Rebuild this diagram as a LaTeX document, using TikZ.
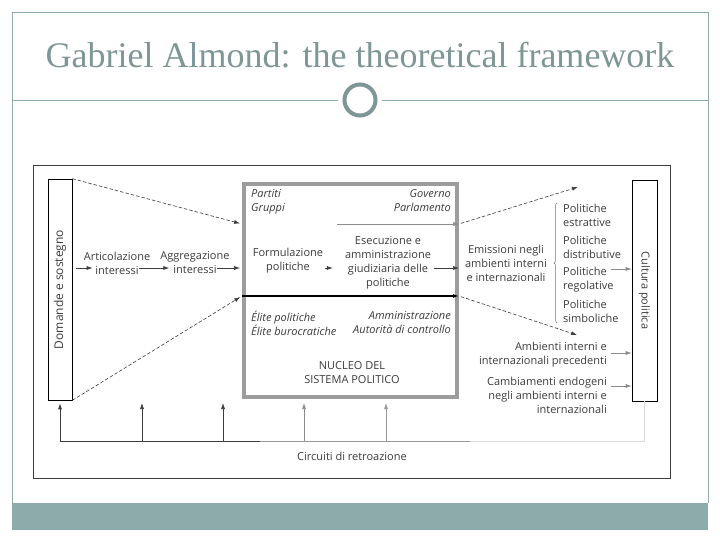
\documentclass[tikz,border=0pt]{standalone}
\usepackage{fontspec}
\setmainfont{Open Sans}
\newfontfamily\titlefont{Liberation Serif}
\usetikzlibrary{positioning,arrows.meta,decorations.pathreplacing}

\definecolor{slideteal}{HTML}{8DABAB}
\definecolor{titlegray}{HTML}{7E9696}
\definecolor{ink}{HTML}{3C3C3C}
\definecolor{corebd}{HTML}{9C9C9C}

\tikzset{
  txt/.style={font=\fontsize{11}{14}\selectfont, text=ink, inner sep=0pt, align=center},
  itxt/.style={txt, font=\fontsize{11}{14}\selectfont\itshape},
  flow/.style={draw=ink, line width=0.6pt, -{Latex[length=6pt,width=4pt]}},
  dflow/.style={flow, dash pattern=on 3.5pt off 2pt},
  gflow/.style={flow, draw=black!45},
  fbline/.style={line width=0.7pt},
  tallbox/.style={draw=black, line width=0.6pt, minimum height=221pt, inner sep=0pt},
}

\begin{document}
\begin{tikzpicture}[x=1pt, y=-1pt]
    \useasboundingbox (0,0) rectangle (720,540);
    \fill[white] (0,0) rectangle (720,540);

    \fill[slideteal] (12,503) rectangle (708,530);
    \draw[slideteal, line width=0.8pt] (12,503) -- (12,12) -- (708,12) -- (708,503);
    \draw[slideteal, line width=0.8pt] (12,100) -- (338,100) (382,100) -- (708,100);
    \draw[titlegray, line width=4pt] (360,100) circle (15.5pt);

    \node[font=\titlefont\fontsize{36}{36}\selectfont, text=titlegray] (title) at (360,55) {Gabriel Almond: the theoretical framework};

    \draw[ink, line width=1pt] (33,166) rectangle (670,478);

    \node[tallbox, minimum width=24pt] (dem) at (60,289.5) {};
    \node[txt, font=\fontsize{12}{14}\selectfont, rotate=90] (demtxt) at (dem.center) {Domande e sostegno};
    \node[tallbox, minimum width=25pt] (cult) at (644.5,290.5) {};
    \node[txt, rotate=-90] (culttxt) at (cult.center) {Cultura politica};

    \node[draw=corebd, line width=4pt, minimum width=213pt, minimum height=213pt] (core) at (350.5,290.5) {};

    \node[itxt, align=left, anchor=north west] (partiti) at (251,189) {Partiti\\Gruppi};
    \node[itxt, align=right, anchor=north east] (governo) at (451,189) {Governo\\Parlamento};
    \node[txt] (formul) at (288,261) {Formulazione\\politiche};
    \node[txt] (esec) at (388,263) {Esecuzione e\\amministrazione\\giudiziaria delle\\politiche};
    \node[itxt, align=left, anchor=north west] (elite) at (251,311) {Élite politiche\\Élite burocratiche};
    \node[itxt, align=right, anchor=north east] (amm) at (451,311) {Amministrazione\\Autorità di controllo};
    \node[txt] (nucleo) at (352,373) {NUCLEO DEL\\SISTEMA POLITICO};

    \coordinate (govin) at (337,224);
    \draw[gflow] (govin) -- (core.east |- 0,224);
    \draw[flow] ([xshift=2pt, yshift=-7pt]formul.east) -- ([xshift=-12pt, yshift=-5pt]esec.west);
    \draw[flow] ([xshift=3pt, yshift=-5pt]esec.east) -- (core.east |- 0,268);
    \draw[flow, draw=black, line width=1.4pt] (core.west |- 0,296) -- (core.east |- 0,296);

    \node[txt] (artic) at (117,263) {Articolazione\\interessi};
    \node[txt] (aggr) at (195,263) {Aggregazione\\interessi};
    \draw[dflow, shorten >=2pt] (dem.north east) -- (core.west |- 0,224);
    \draw[dflow, shorten >=2pt] (dem.south east) -- (core.west |- 0,296);
    \draw[flow, shorten <=4pt] (dem.east |- 0,268) -- ([xshift=9pt, yshift=-5pt]artic.west);
    \draw[flow] ([xshift=-11pt, yshift=-5pt]artic.east) -- ([xshift=9pt, yshift=-5pt]aggr.west);
    \draw[flow, shorten >=2pt] ([xshift=-13pt, yshift=-5pt]aggr.east) -- (core.west |- 0,268);

    \coordinate (outT) at (578,187);
    \coordinate (outB) at (577,335);
    \draw[dflow, shorten <=2pt] (core.east |- 0,224) -- (outT);
    \draw[dflow, shorten <=2pt] (core.east |- 0,296) -- (outB);
    \node[txt] (emiss) at (506,263) {Emissioni negli\\ambienti interni\\e internazionali};
    \draw[black!55, line width=0.5pt, decorate, decoration={brace, amplitude=3pt}] (557,323) -- (557,203);

    \node[txt, align=left, anchor=west] (pol1) at (563,215) {Politiche\\estrattive};
    \node[txt, align=left, anchor=west] (pol2) at (563,247) {Politiche\\distributive};
    \node[txt, align=left, anchor=west] (pol3) at (563,279.5) {Politiche\\regolative};
    \node[txt, align=left, anchor=west] (pol4) at (563,311.5) {Politiche\\simboliche};
    \coordinate (polout) at (611,269);
    \draw[gflow] (polout) -- (cult.west |- polout);

    \node[txt, align=right, anchor=east] (amb) at (607,355) {Ambienti interni e\\internazionali precedenti};
    \node[txt, align=right, anchor=east] (camb) at (607,395) {Cambiamenti endogeni\\negli ambienti interni e\\internazionali};
    \draw[gflow] ([xshift=4pt, yshift=2pt]amb.east) -- (cult.west |- 0,353);
    \draw[gflow] ([xshift=4pt, yshift=9pt]camb.east) -- (cult.west |- 0,386);

    \coordinate (fbR) at (cult.south |- 0,441);
    \coordinate (fbL) at (dem.south |- 0,441);
    \draw[fbline, black!15] (cult.south) -- (fbR) -- (470,441);
    \draw[fbline, black!40] (470,441) -- (260,441);
    \draw[flow, line width=0.7pt] (260,441) -- (fbL) -- ([yshift=-3pt]dem.south);
    \foreach \x/\shade in {142/ink, 223/ink, 304/black!45, 386/black!40}
        \draw[flow, draw=\shade] (\x,441) -- (\x,403);
    \node[txt] (circ) at (352,456) {Circuiti di retroazione};
\end{tikzpicture}
\end{document}
